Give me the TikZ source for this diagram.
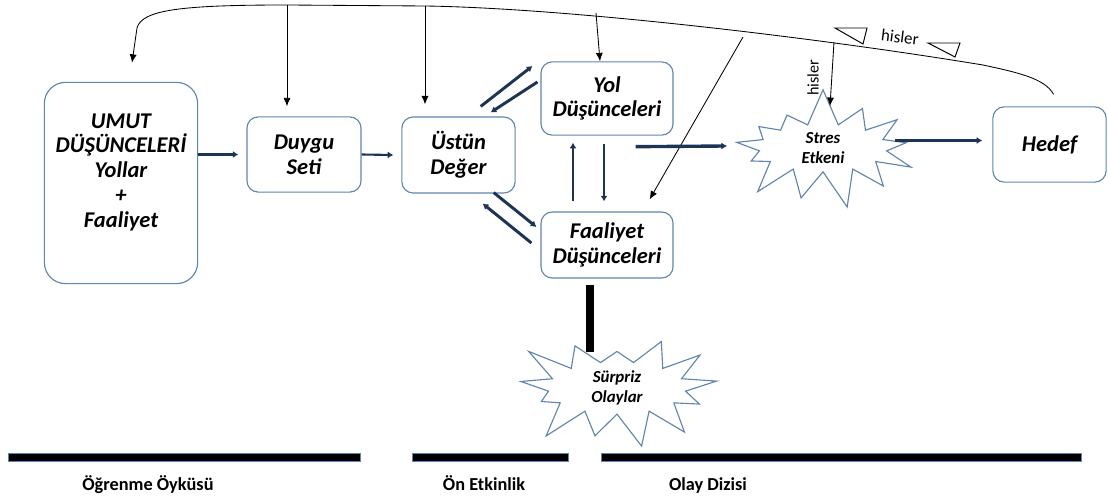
\documentclass[tikz,border=0pt]{standalone}
\usepackage{fontspec}
\setmainfont{Carlito}
\usepackage{tikz}
\usetikzlibrary{arrows.meta, positioning, calc, shapes.symbols}
\definecolor{boxblue}{RGB}{96, 132, 178}
\definecolor{navyline}{RGB}{28, 52, 86}

\tikzset{
    box/.style={draw=boxblue, line width=0.8pt, rounded corners=8pt, align=center, fill=white,
        font=\bfseries\itshape\fontsize{16}{17.6}\selectfont, inner sep=2pt},
    burst/.style={draw=boxblue, line width=0.8pt, starburst, starburst points=13, align=center,
        fill=white, font=\bfseries\itshape\fontsize{12}{14}\selectfont, inner sep=1pt},
    feed/.style={black, line width=0.6pt, -{Latex[length=6pt, width=5pt]}},
    flow/.style={navyline, line width=2.1pt, -{Latex[length=4pt, width=5pt]}},
    bar/.style={draw=boxblue, fill=black, line width=0.5pt},
    phase/.style={font=\bfseries\fontsize{13}{15}\selectfont, anchor=base}
}

\begin{document}
\begin{tikzpicture}[x=0.025cm, y=-0.025cm]
    \useasboundingbox (0,0) rectangle (1108,497);

    % Boxes
    \node[box, minimum width=3.83cm, minimum height=5.03cm, rounded corners=15pt, text depth=18pt] (umut) at (121,183)
        {UMUT\\DÜŞÜNCELERİ\\Yollar\\+\\Faaliyet};
    \node[box, minimum width=2.85cm, minimum height=1.88cm] (duygu) at (304,154.5) {Duygu\\Seti};
    \node[box, minimum width=2.83cm, minimum height=1.9cm] (ustun) at (458.5,155) {Üstün\\Değer};
    \node[box, minimum width=3.3cm, minimum height=1.83cm] (yol) at (607,98.5) {Yol\\Düşünceleri};
    \node[box, minimum width=3.3cm, minimum height=1.65cm] (faal) at (607,245) {Faaliyet\\Düşünceleri};
    \node[box, minimum width=2.83cm, minimum height=1.88cm] (hedef) at (1049.5,144.5) {Hedef};

    % Starbursts
    \node[burst, minimum width=5.1cm, minimum height=2.75cm, starburst point height=0.95cm, random starburst=7] (stres) at (823,148) {Stres\\Etkeni};
    \node[burst, minimum width=5.45cm, minimum height=3.05cm, starburst point height=1cm, random starburst=23] (surpriz) at (617,388) {Sürpriz\\Olaylar};

    % Points on the feedback line
    \coordinate (tDuygu) at (287,5);
    \coordinate (tUstun) at (425,6);
    \coordinate (tYol) at (596,13);
    \coordinate (tFaal) at (743,37);
    \coordinate (tStres) at (834,42);

    % Feedback line from Hedef back to UMUT
    \draw[feed] ($(hedef.north)+(4,-12)$) .. controls (1045,78) and (1015,72) .. (983,65)
        .. controls (800,35) and (560,8) .. (tUstun) -- (tDuygu)
        .. controls (180,5) and (142,10) .. (137,28) -- ($(umut.north)+(11,-19)$);

    % Triangles and labels on the line
    \draw[line width=0.7pt] (835,28) -- (867,28) -- (863,44) -- cycle;
    \draw[line width=0.7pt] (928,43) -- (960,43) -- (955,57) -- cycle;
    \node[font=\fontsize{12}{14}\selectfont, rotate=-7] (hisA) at (900,37) {hisler};
    \node[font=\fontsize{11.5}{13}\selectfont, rotate=90] (hisB) at (813,78) {hisler};

    % Arrows from the feedback line
    \draw[feed, shorten >=10*0.025cm] (tDuygu) -- (tDuygu |- duygu.north);
    \draw[feed, shorten >=12*0.025cm] (tUstun) -- (tUstun |- ustun.north);
    \draw[feed] (tYol) -- ($(yol.north)+(-7,0)$);
    \draw[feed] (tFaal) -- ($(faal.north east)+(-24,-12)$);
    \draw[feed] (tStres) -- ($(stres.center)+(7,-42)$);

    % Main flow
    \draw[flow] (umut.east |- duygu.west) -- ($(duygu.west)+(-8,0)$);
    \draw[flow, line width=1.5pt] (duygu.east) -- ($(ustun.west)+(-8,0)$);
    \draw[flow] ($(ustun.north east)+(-35,-10)$) -- ($(yol.west)+(-8,-32.5)$);
    \draw[flow] ($(yol.west)+(-3,-16.5)$) -- ($(ustun.north east)+(-25,-4)$);
    \draw[flow] ($(ustun.south east)+(-22,-1)$) -- ($(faal.west)+(-4,-18)$);
    \draw[flow] ($(faal.west)+(-9,-2)$) -- ($(ustun.south east)+(-33,10)$);
    \draw[flow] ($(faal.north)+(-34,-10)$) -- ($(yol.south)+(-34,7)$);
    \draw[flow] ($(yol.south)+(-3,8)$) -- ($(faal.north)+(-3,-10)$);
    \draw[flow, line width=2.4pt] ($(yol.south east)+(-38,11)$) -- ($(stres.center)+(-96,-2)$);
    \draw[flow, line width=2.4pt] ($(hedef.west)+(-97,-4)$) -- ($(hedef.west)+(-10,-4)$);
    \draw[black, line width=5pt] ($(faal.south)+(-17,6)$) -- ($(surpriz.center)+(-27,-36)$);

    % Phases
    \draw[bar] (8,453) rectangle (360,461);
    \draw[bar] (412,453) rectangle (568,461);
    \draw[bar] (601,453) rectangle (1081,461);
    \node[phase] (oyku) at (148,490) {Öğrenme Öyküsü};
    \node[phase] (onet) at (484,490) {Ön Etkinlik};
    \node[phase] (olay) at (708,490) {Olay Dizisi};
\end{tikzpicture}
\end{document}
